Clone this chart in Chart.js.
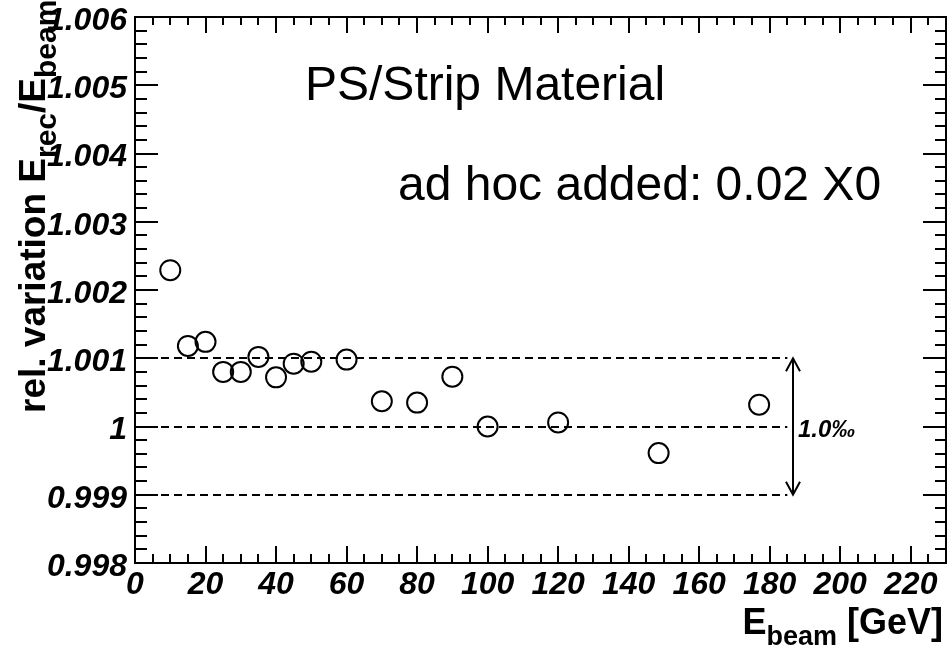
<!DOCTYPE html>
<html lang="en">
<head>
<meta charset="UTF-8">
<title>PS/Strip Material</title>
<style>
  html, body { margin: 0; padding: 0; background: #fff; }
  canvas { display: block; }
</style>
</head>
<body>
<canvas id="myChart" width="948" height="649"></canvas>
<script src="https://cdn.jsdelivr.net/npm/chart.js"></script>
<script>
// beam energy [GeV] and relative response E_rec/E_beam
const energies = [10, 15, 20, 25, 30, 35, 40, 45, 50, 60, 70, 80, 90, 100, 120, 148.5, 177];
const response = [1.00229, 1.00118, 1.00124, 1.00080, 1.00080, 1.00102, 1.00072, 1.00092, 1.00095,
                  1.00098, 1.00037, 1.00035, 1.00073, 1.00000, 1.00006, 0.99961, 1.00032];
const xTickLabels = [0, 20, 40, 60, 80, 100, 120, 140, 160, 180, 200, 220];
const yTickLabels = [0.998, 0.999, 1, 1.001, 1.002, 1.003, 1.004, 1.005, 1.006];
const bandLevels = [1.001, 1, 0.999];   // +-1 permille band
const bandEnd = 185;                    // dashed lines stop here
const arrowAt = 186.5;                  // x of the double arrow
const xRange = [0, 230];
const yRange = [0.998, 1.006];

const FONT = '"Liberation Sans", Arial, Helvetica, sans-serif';

// draws a label made of pieces, some of them subscripts
function drawPieces(ctx, pieces, x, y, main, sub) {
    for (const p of pieces) {
        ctx.font = p.sub ? sub : main;
        ctx.fillText(p.t, x, y + (p.sub ? 11 : 0));
        x += ctx.measureText(p.t).width;
    }
    return x;
}

function noPadding(scale) {
    scale.paddingTop = 0; scale.paddingBottom = 0;
    scale.paddingLeft = 0; scale.paddingRight = 0;
}

const rootStyle = {
    id: 'rootStyle',
    beforeDatasetsDraw(chart) {
        const ctx = chart.ctx, xs = chart.scales.x, ys = chart.scales.y;
        ctx.save();
        ctx.strokeStyle = '#000';
        ctx.lineWidth = 2;
        ctx.setLineDash([8, 5]);
        for (const v of bandLevels) {
            const py = Math.round(ys.getPixelForValue(v));
            ctx.beginPath();
            ctx.moveTo(xs.getPixelForValue(0), py);
            ctx.lineTo(xs.getPixelForValue(bandEnd), py);
            ctx.stroke();
        }
        ctx.setLineDash([]);
        // double arrow spanning the band
        const ax = Math.round(xs.getPixelForValue(arrowAt));
        const y1 = ys.getPixelForValue(Math.max(...bandLevels));
        const y2 = ys.getPixelForValue(Math.min(...bandLevels));
        ctx.lineWidth = 2;
        ctx.beginPath();
        ctx.moveTo(ax, y1); ctx.lineTo(ax, y2);
        ctx.moveTo(ax - 7, y1 + 13); ctx.lineTo(ax, y1); ctx.lineTo(ax + 7, y1 + 13);
        ctx.moveTo(ax - 7, y2 - 13); ctx.lineTo(ax, y2); ctx.lineTo(ax + 7, y2 - 13);
        ctx.stroke();
        ctx.fillStyle = '#000';
        ctx.font = 'bold italic 24px ' + FONT;
        ctx.textBaseline = 'alphabetic';
        ctx.fillText('1.0\u2030', ax + 5, ys.getPixelForValue(1) + 10);
        ctx.restore();
    },
    afterDraw(chart) {
        const ctx = chart.ctx, xs = chart.scales.x, ys = chart.scales.y;
        const a = chart.chartArea;
        ctx.save();
        ctx.strokeStyle = '#000';
        ctx.fillStyle = '#000';
        ctx.lineWidth = 2;
        ctx.strokeRect(a.left, a.top, a.right - a.left, a.bottom - a.top);

        // ticks on all four sides, pointing inwards
        ctx.beginPath();
        for (let v = xRange[0]; v <= xRange[1] + 1e-9; v += 5) {
            const major = v % 20 === 0;
            const px = Math.round(xs.getPixelForValue(v));
            ctx.moveTo(px, a.bottom); ctx.lineTo(px, a.bottom - (major ? 17 : 9));
            ctx.moveTo(px, a.top); ctx.lineTo(px, a.top + (major ? 16 : 8));
        }
        for (let i = 0; i <= 40; i++) {
            const v = yRange[0] + i * 0.0002;
            const major = i % 5 === 0;
            const py = Math.round(ys.getPixelForValue(v));
            ctx.moveTo(a.left, py); ctx.lineTo(a.left + (major ? 23 : 12), py);
            ctx.moveTo(a.right, py); ctx.lineTo(a.right - (major ? 23 : 11), py);
        }
        ctx.stroke();

        // labels inside the frame
        ctx.font = '48px ' + FONT;
        ctx.textBaseline = 'alphabetic';
        ctx.fillText('PS/Strip Material', 305, 100);
        ctx.fillText('ad hoc added: 0.02 X0', 398, 200);

        // x axis title, right aligned
        const xMain = 'bold 36px ' + FONT, xSub = 'bold 27px ' + FONT;
        const xt = [{t: 'E'}, {t: 'beam', sub: true}, {t: ' [GeV]'}];
        let w = 0;
        for (const p of xt) {
            ctx.font = p.sub ? xSub : xMain;
            w += ctx.measureText(p.t).width;
        }
        drawPieces(ctx, xt, 943 - w, 634, xMain, xSub);

        // y axis title, rotated
        ctx.translate(45, 413);
        ctx.rotate(-Math.PI / 2);
        drawPieces(ctx, [{t: 'rel. variation E'}, {t: 'rec', sub: true}, {t: '/E'}, {t: 'beam', sub: true}],
                   0, 0, 'bold 37px ' + FONT, 'bold 30px ' + FONT);
        ctx.restore();
    }
};

const ctx = document.querySelector('#myChart');
const tickFont = { family: FONT, size: 32, weight: 'bold', style: 'italic' };

const myChart = new Chart(ctx, {
    type: 'scatter',
    data: {
        datasets: [{
            data: energies.map((e, i) => ({ x: e, y: response[i] })),
            pointStyle: 'circle',
            pointRadius: 10,
            pointBorderWidth: 2,
            borderColor: '#000',
            backgroundColor: 'rgba(0,0,0,0)',
            showLine: false
        }]
    },
    options: {
        responsive: false,
        animation: false,
        events: [],
        layout: { autoPadding: false, padding: { top: 17, right: 2, left: 0, bottom: 0 } },
        plugins: { legend: { display: false }, tooltip: { enabled: false } },
        scales: {
            x: {
                type: 'linear',
                min: xRange[0], max: xRange[1],
                grid: { display: false },
                border: { display: false },
                afterBuildTicks(scale) { scale.ticks = xTickLabels.map(v => ({ value: v })); },
                ticks: {
                    autoSkip: false, maxRotation: 0, padding: -5,
                    color: '#000', font: tickFont
                },
                afterFit(scale) { scale.height = 86; noPadding(scale); }
            },
            y: {
                type: 'linear',
                min: yRange[0], max: yRange[1],
                grid: { display: false },
                border: { display: false },
                afterBuildTicks(scale) { scale.ticks = yTickLabels.map(v => ({ value: v })); },
                ticks: {
                    autoSkip: false, padding: 0, labelOffset: 4,
                    color: '#000', font: tickFont,
                    callback: v => String(Number(v.toFixed(3)))
                },
                afterFit(scale) { scale.width = 135; noPadding(scale); }
            }
        }
    },
    plugins: [rootStyle]
});
</script>
</body>
</html>
